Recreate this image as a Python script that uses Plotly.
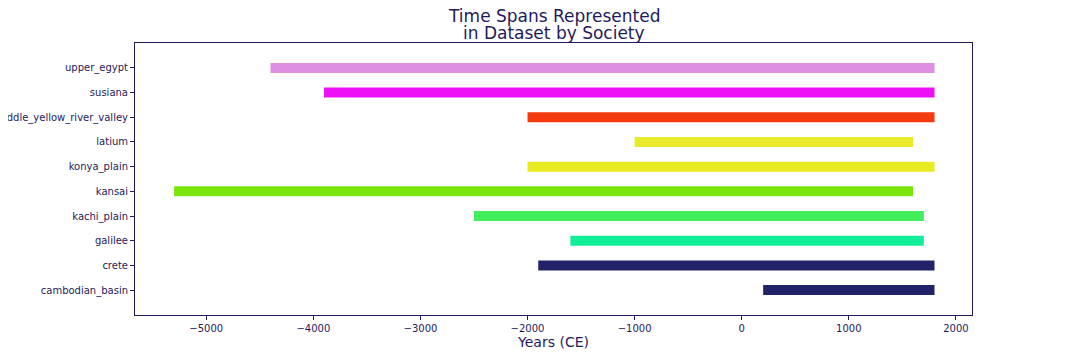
import plotly.graph_objects as go

societies = ["cambodian_basin", "crete", "galilee", "kachi_plain", "kansai",
             "konya_plain", "latium", "middle_yellow_river_valley", "susiana", "upper_egypt"]
start_years = [200, -1900, -1600, -2500, -5300, -2000, -1000, -2000, -3900, -4400]
end_years = [1800, 1800, 1700, 1700, 1600, 1800, 1600, 1800, 1800, 1800]
colors = ["#22226A", "#22226A", "#12EE98", "#42EE5E", "#7AE60E",
          "#E8EA22", "#E8EA2A", "#F53A10", "#EE10F5", "#DE8FE0"]
x_ticks = [-5000, -4000, -3000, -2000, -1000, 0, 1000, 2000]
title_lines = ["Time Spans Represented", "in Dataset by Society"]

ink = "#1f1a5c"
fig = go.Figure()
for i, (name, s, e, c) in enumerate(zip(societies, start_years, end_years, colors)):
    fig.add_trace(go.Scatter(x=[s, e], y=[i, i], mode="lines",
                             line=dict(color=c, width=10), name=name,
                             showlegend=False, hoverinfo="x+name"))

for line, shift in zip(title_lines, [27, 10]):
    fig.add_annotation(text=line, xref="paper", yref="paper", x=0.5, y=1, yshift=shift,
                       xanchor="center", yanchor="middle", showarrow=False,
                       font=dict(size=17, color=ink, family="DejaVu Sans"))

fig.update_layout(
    width=1072, height=352,
    margin=dict(l=127, r=108, t=35, b=45, autoexpand=False),
    paper_bgcolor="white", plot_bgcolor="white",
    font=dict(family="DejaVu Sans", color=ink, size=10),
    xaxis=dict(range=[-5665, 2150], tickvals=x_ticks,
               ticktext=["\u2212" + str(-v) if v < 0 else str(v) for v in x_ticks],
               showgrid=False, zeroline=False, showline=True, linecolor=ink,
               linewidth=1, mirror=True, ticks="outside", ticklen=4, tickcolor=ink,
               tickfont=dict(size=10, color=ink), automargin=False,
               title=dict(text="Years (CE)", font=dict(size=14, color=ink), standoff=4)),
    yaxis=dict(range=[-1.01, 10.01], tickvals=list(range(len(societies))),
               ticktext=societies, showgrid=False, zeroline=False, showline=True,
               linecolor=ink, linewidth=1, mirror=True, ticks="outside", ticklen=4,
               tickcolor=ink, tickfont=dict(size=10, color=ink), automargin=False),
)

fig.write_html("out.html")
